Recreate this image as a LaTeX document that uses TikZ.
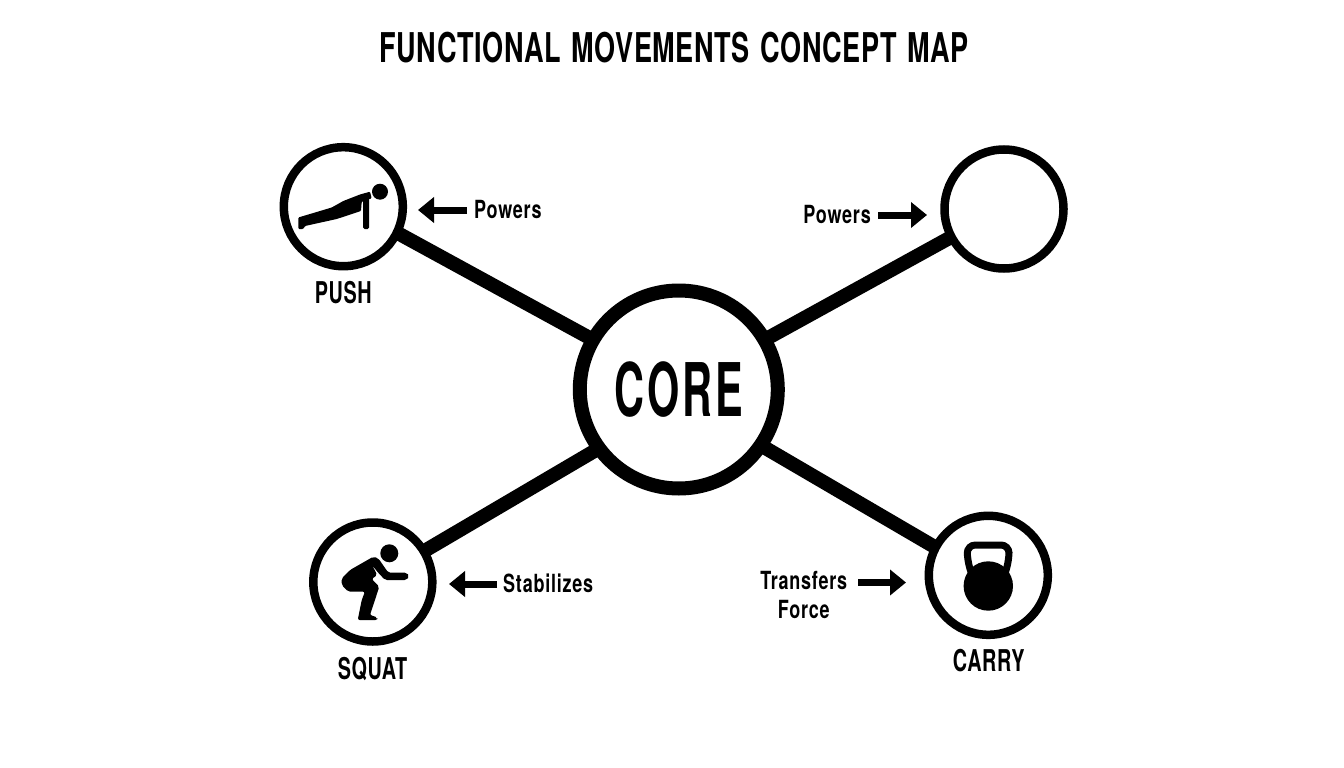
\documentclass[tikz,border=0pt]{standalone}
\usepackage{fontspec}
\setmainfont{TeX Gyre Heros}[FakeStretch=0.66,LetterSpace=1.5,WordSpace=1.3]
\newfontfamily\lightfont{TeX Gyre Heros}[FakeStretch=0.72,LetterSpace=3]
\newfontfamily\labelfont{TeX Gyre Heros}[FakeStretch=0.66,LetterSpace=2]
\newfontfamily\corefont{TeX Gyre Heros}[FakeStretch=0.56,LetterSpace=4]
\usetikzlibrary{arrows.meta}
\tikzset{
  hub/.style={circle,draw=black,line width=14pt,fill=white,minimum size=198pt,inner sep=0pt,font=\corefont\bfseries\fontsize{74}{80}\selectfont},
  spoke/.style={circle,draw=black,line width=8.5pt,fill=white,minimum size=119pt,inner sep=0pt},
  link/.style={line width=14pt,black,shorten >=-4pt,shorten <=-4pt},
  maintitle/.style={font=\bfseries\fontsize{41}{44}\selectfont,inner sep=0pt,anchor=base},
  caplabel/.style={font=\labelfont\bfseries\fontsize{30}{32}\selectfont,inner sep=0pt,anchor=base},
  rel/.style={font=\lightfont\bfseries\fontsize{25}{29.5}\selectfont,align=center,inner sep=0pt},
  flow/.style={line width=7pt,-{Triangle[length=16pt,width=25pt]}},
  icon/.style={fill=black,draw=none}
}
\begin{document}
\begin{tikzpicture}[x=1pt,y=-1pt]
\useasboundingbox (0,0) rectangle (1344,768);
\fill[white] (0,0) rectangle (1344,768);
\node[maintitle] (ttl) at (674,62.7) {FUNCTIONAL MOVEMENTS CONCEPT MAP};
\node[hub] (core) at (678.8,389.5) {CORE};
\node[spoke] (push) at (343.3,206.7) {};
\node[spoke] (blank) at (1004,209) {};
\node[spoke] (squat) at (372.8,582) {};
\node[spoke] (carry) at (988.3,575.3) {};
\draw[link] (core.150) -- (push.-26);
\draw[link] (core.30) -- (blank.208);
\draw[link] (core.216.5) -- (squat.31);
\draw[link] (core.-34) -- (carry.152);
\node[caplabel] (pushl) at (343.3,303.3) {PUSH};
\node[caplabel] (squatl) at (372.5,679) {SQUAT};
\node[caplabel] (carryl) at (988.7,671.7) {CARRY};
\node[rel,anchor=base west] (p1) at (474,218) {Powers};
\node[rel,anchor=base east] (p2) at (871,223.3) {Powers};
\node[rel,anchor=base west] (st) at (503,592.7) {Stabilizes};
\node[rel] (tf) at (803.7,595) {Transfers\\Force};
\coordinate (p1e) at (418,210);
\coordinate (p2e) at (927,215);
\coordinate (ste) at (449,584);
\coordinate (tfe) at (906,582.5);
\coordinate (p1s) at (467,210);
\coordinate (p2s) at (878,215);
\coordinate (sts) at (497,584);
\coordinate (tfs) at (858,582.5);
\draw[flow] (p1s) -- (p1e);
\draw[flow] (p2s) -- (p2e);
\draw[flow] (sts) -- (ste);
\draw[flow] (tfs) -- (tfe);
% push-up icon
\fill[icon] (380,191.7) circle (8);
\fill[icon,rounded corners=1pt] (298.3,217.5) -- (331.7,207.5) -- (343.3,201) -- (360,194.5) -- (370,191.7) -- (371.7,198.3) -- (361.7,201.7) -- (361,211) -- (336.7,219) -- (305,226) -- (303.3,229) -- (298.3,229) -- cycle;
\fill[icon,rounded corners=1.5pt] (363,198) rectangle (369,229);
% squat icon
\fill[icon] (389.3,553.3) circle (9);
\fill[icon,rounded corners=2pt] (373.3,556.7) -- (378.3,558.3) -- (388.3,572.7) -- (406.7,572.7) -- (409.3,576) -- (406.7,580) -- (385,580) -- (377.3,571.7) -- (372,565) -- (377.3,575) -- (371.7,579) -- (379.3,586.7) -- (370,615) -- (377.3,617.3) -- (377.3,620) -- (357.7,620) -- (361.7,600) -- (365,591.7) -- (348.3,591.7) -- (341.7,585) -- (341.7,578.3) -- (350,570) -- cycle;
% kettlebell icon
\fill[icon] (988.3,586) circle (24.7);
\draw[line width=7pt,rounded corners=8pt] (971,572) -- (967.3,560) -- (967.3,545) -- (1009,545) -- (1009,560) -- (1005.5,572);
\end{tikzpicture}
\end{document}
